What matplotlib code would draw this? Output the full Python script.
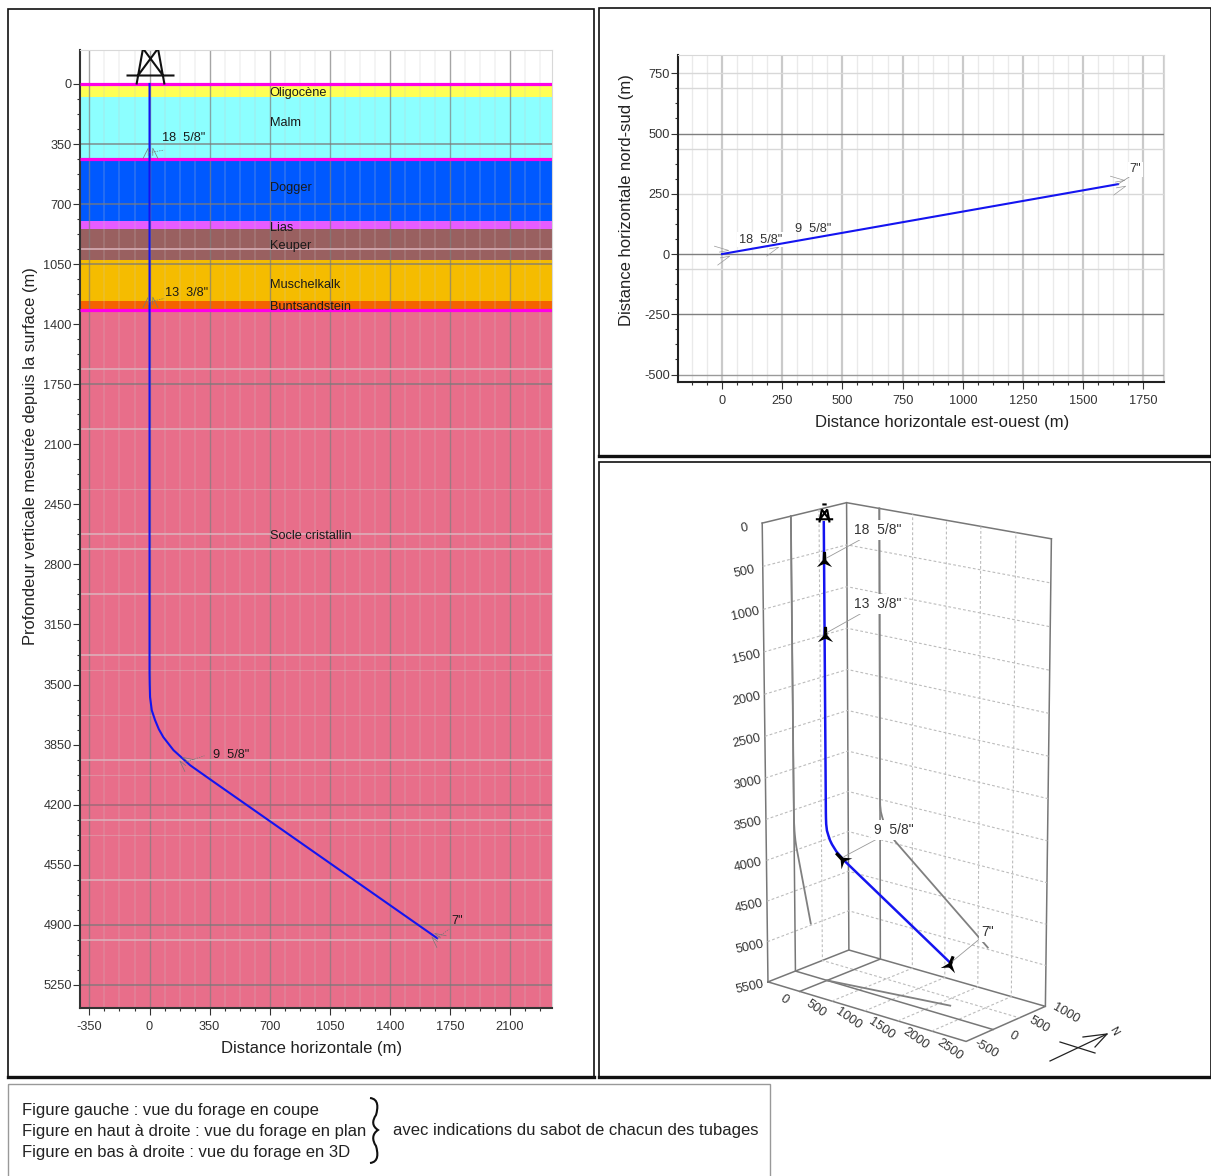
import matplotlib
matplotlib.use('Agg')
import matplotlib.pyplot as plt
from matplotlib.markers import MarkerStyle
from matplotlib.path import Path
from matplotlib.patches import PathPatch, Rectangle
from matplotlib.transforms import Affine2D
from mpl_toolkits.mplot3d import proj3d

plt.rcParams['font.family'] = ['Liberation Sans', 'DejaVu Sans']
plt.rcParams['axes.unicode_minus'] = False

W, H = 1211, 1176

# --- Données : coupe ---
couches = ['Oligocène', 'Malm', 'Dogger', 'Lias', 'Keuper', 'Muschelkalk', 'Buntsandstein', 'Socle cristallin']
toits = [0, 78, 437, 797, 847, 1028, 1267, 1318]
murs = [78, 437, 797, 847, 1028, 1267, 1318, 5385]
couleurs = ['#FFFF55', '#8CFFFF', '#0059FF', '#E65CFF', '#996060', '#F5BC00', '#F56200', '#E86E8A']
label_y = [50, 225, 604, 837, 947, 1169, 1297, 2637]
limites_magenta = [0, 437, 1318]

coupe_x = [0, 0, 1, 3, 13, 32, 54, 80, 139, 236, 372, 1675]
coupe_z = [0, 3433, 3500, 3573, 3650, 3707, 3760, 3806, 3882, 3970, 4066, 4978]

tubages = ['18  5/8"', '13  3/8"', '9  5/8"', '7"']
sabot_x = [0, 0, 207, 1675]
sabot_z = [400, 1270, 3952, 4978]
sabot_angle = [0, 0, 52, 52]
tub_label_x = [73, 90, 370, 1760]
tub_label_z = [315, 1218, 3910, 4878]
leader_x = [85, 85, 320, 1745]
leader_z = [385, 1250, 3915, 4925]

z_ticks = [0, 350, 700, 1050, 1400, 1750, 2100, 2450, 2800, 3150, 3500, 3850, 4200, 4550, 4900, 5250]
x_ticks = [-350, 0, 350, 700, 1050, 1400, 1750, 2100]
z_sombres = [350, 700, 1050, 1750, 4900, 5250]
z_moyens = [4200]
z_clairs = [962.5, 1662.5, 2012.5, 2625, 2712.5, 2975, 3325, 3937.5, 4287.5, 4637.5, 4987.5]
z_pales = [2362.5, 3412.5, 3675, 4025, 4375]

# --- Données : plan ---
plan_e = [0, 205, 1645]
plan_n = [0, 36, 290]
plan_sabot_e = [0, 205, 1645]
plan_sabot_n = [0, 36, 290]
plan_xticks = [0, 250, 500, 750, 1000, 1250, 1500, 1750]
plan_yticks = [-500, -250, 0, 250, 500, 750]
plan_sombres = [-250, 0, 500]
plan_clairs = [-62.5, 250, 437.5, 687.5, 750]

# --- Données : 3D ---
well_e = [0, 0, 1, 3, 13, 32, 53, 79, 137, 232, 366, 1645]
well_n = [0, 0, 0, 1, 2, 6, 9, 14, 24, 41, 65, 290]
well_z = [0, 3433, 3500, 3573, 3650, 3707, 3760, 3806, 3882, 3970, 4066, 4978]
sab3_e = [0, 0, 205, 1645]
sab3_n = [0, 0, 36, 290]
sab3_z = [430, 1300, 3952, 4978]
sab3_angle = [0, 0, 45, -20]
e_ticks = [0, 500, 1000, 1500, 2000, 2500]
n_ticks = [-500, 0, 500, 1000]
prof_ticks = [0, 500, 1000, 1500, 2000, 2500, 3000, 3500, 4000, 4500, 5000, 5500]


def axes_px(l, t, r, b, **kw):
    return fig.add_axes([l / W, 1 - b / H, (r - l) / W, (b - t) / H], **kw)


def style_axes(ax, dark='#333333'):
    for s in ['top', 'right']:
        ax.spines[s].set_color('#d8d8d8')
    for s in ['left', 'bottom']:
        ax.spines[s].set_color(dark)
        ax.spines[s].set_linewidth(1.5)
    ax.tick_params(which='major', length=5, width=0.8, color='#333333', labelsize=9.2, labelcolor='#333333')
    ax.tick_params(which='minor', length=2.5, width=0.8, color='#333333')
    ax.tick_params(axis='x', which='major', pad=4.5)
    ax.tick_params(axis='y', which='major', pad=1)


def marqueur_sabot(angle):
    verts = [(-1, -.7), (-.3, .7), (-.3, -.3), (.3, -.3), (.3, .7), (1, -.7)]
    codes = [Path.MOVETO, Path.LINETO, Path.LINETO, Path.MOVETO, Path.LINETO, Path.LINETO]
    return MarkerStyle(Path(verts, codes), transform=Affine2D().rotate_deg(angle))


def marqueur_plein(angle):
    verts = [(-.2, 1), (.2, 1), (.25, -.1), (1, -1), (.1, -.6), (-.1, -.6), (-1, -1), (-.25, -.1), (-.2, 1)]
    return MarkerStyle(Path(verts, closed=True), transform=Affine2D().rotate_deg(angle))


def marqueur_derrick():
    verts = [(-14, 0), (-7.5, 36), (14, 0), (7.5, 36), (-24, 9), (24, 9),
             (-12.5, 9), (7.5, 36), (12.5, 9), (-7.5, 36), (-6, 50), (6, 50)]
    codes = [Path.MOVETO, Path.LINETO] * 6
    return Path(verts, codes)


fig = plt.figure(figsize=(W / 100, H / 100), dpi=100, facecolor='white')

# --- 1. Coupe ---
ax = axes_px(80, 50, 552, 1008)
ax.set_xlim(-405, 2344)
ax.set_ylim(5385, -198)
for t, m, c in zip(toits, murs, couleurs):
    ax.axhspan(t, m, color=c, lw=0, zorder=1)
for i in range(-4, 27):
    v = i * 87.5
    if i % 4:
        ax.axvline(v, color='#c8c8c8', alpha=0.22, lw=1.2, zorder=2)
for v in x_ticks:
    ax.axvline(v, color='#7f7f7f', alpha=0.7, lw=1, zorder=2)
ax.hlines(z_sombres, -405, 2344, color='#7a7a7a', lw=1.1, alpha=0.85, zorder=2)
ax.hlines(z_moyens, -405, 2344, color='#a06a78', lw=1.1, zorder=2)
ax.hlines(z_clairs, -405, 2344, color='#dcb4bd', lw=1.1, zorder=2)
ax.hlines(z_pales, -405, 2344, color='#dcb4bd', lw=0.8, alpha=0.45, zorder=2)
ax.hlines(limites_magenta, -405, 2344, color='#FF00E6', lw=2.3, zorder=3)
ax.plot(coupe_x, coupe_z, color='#1414F0', lw=1.5, zorder=4)
ax.plot([0], [0], marker=marqueur_derrick(), ms=72, mfc='none', mec='#111111', mew=1.5, zorder=5, ls='none')
for nom, y in zip(couches, label_y):
    ax.text(700, y, nom, fontsize=9.2, color='#1a1a1a', va='center', ha='left', zorder=6)
for sx, sz, a, tub, lx, lz, gx, gz in zip(sabot_x, sabot_z, sabot_angle, tubages,
                                          tub_label_x, tub_label_z, leader_x, leader_z):
    ax.plot([sx], [sz], marker=marqueur_sabot(a), ms=11, mfc='none', mec='#777777', mew=0.5, ls='none', zorder=5)
    ax.plot([sx, gx], [sz, gz], color='#777777', lw=0.5, ls=(0, (2, 1.5)), zorder=5)
    ax.text(lx, lz, tub, fontsize=9.2, color='#1a1a1a', va='center', ha='left', zorder=6)
ax.set_xticks(x_ticks)
ax.set_yticks(z_ticks)
ax.set_xticks([i * 87.5 for i in range(-4, 27) if i % 4], minor=True)
ax.set_yticks([i * 87.5 for i in range(0, 61) if i % 4], minor=True)
style_axes(ax)
ax.set_xlabel('Distance horizontale (m)', fontsize=12, color='#222222')
ax.set_ylabel('Profondeur verticale mesurée depuis la surface (m)', fontsize=11.9, color='#222222')
ax.xaxis.set_label_coords(0.4915, -0.0345)
ax.yaxis.set_label_coords(-0.089, 0.576)

# --- 2. Plan ---
ax2 = axes_px(678, 55, 1164, 382)
ax2.set_xlim(-183, 1836)
ax2.set_ylim(-531, 826)
for i in range(-2, 29):
    v = i * 62.5
    if i % 4:
        ax2.axvline(v, color='#dddddd', alpha=0.6, lw=1, zorder=1)
for v in plan_xticks:
    ax2.axvline(v, color='#bdbdbd', lw=1.6, alpha=0.8, zorder=1)
ax2.axvline(1836, color='#cccccc', lw=1.6, zorder=1)
ax2.hlines(plan_clairs, -183, 1836, color='#d8d8d8', lw=1, zorder=1)
ax2.hlines(plan_sombres, -183, 1836, color='#7f7f7f', lw=1, zorder=1)
ax2.hlines([-500], -183, 1836, color='#9a9a9a', lw=1, zorder=1)
ax2.plot(plan_e, plan_n, color='#1414F0', lw=1.5, zorder=3)
for e, n in zip(plan_sabot_e, plan_sabot_n):
    ax2.plot([e], [n], marker=marqueur_sabot(-80), ms=14, mfc='none', mec='#999999', mew=0.5,
             ls='none', zorder=2)
ax2.text(70, 60, tubages[0], fontsize=9.2, color='#333333', va='center', ha='left', zorder=2.5,
         bbox=dict(fc='white', ec='none', pad=1))
ax2.text(305, 106, tubages[2], fontsize=9.2, color='#333333', va='center', ha='left', zorder=4)
ax2.text(1718, 352, tubages[3], fontsize=9.2, color='#333333', va='center', ha='center', zorder=4,
         bbox=dict(fc='white', ec='none', pad=1))
ax2.plot([1645, 1715], [290, 335], color='#888888', lw=0.5, zorder=3)
ax2.set_xticks(plan_xticks)
ax2.set_yticks(plan_yticks)
ax2.set_xticks([i * 62.5 for i in range(-2, 29) if i % 4], minor=True)
ax2.set_yticks([i * 62.5 for i in range(-8, 13) if i % 4], minor=True)
style_axes(ax2, dark='#222222')
ax2.set_xlabel('Distance horizontale est-ouest (m)', fontsize=12, color='#222222')
ax2.set_ylabel('Distance horizontale nord-sud (m)', fontsize=12, color='#222222')
ax2.xaxis.set_label_coords(0.543, -0.101)
ax2.yaxis.set_label_coords(-0.0905, 0.557)

# --- 3. Vue 3D ---
ax3 = axes_px(591, 468, 1203, 1083, projection='3d')
ax3.patch.set_alpha(0)
ax3.set_proj_type('persp', focal_length=1)
ax3.view_init(elev=16.5, azim=-50)
ax3.set_xlim(-500, 2500)
ax3.set_ylim(-500, 1000)
ax3.set_zlim(5500, 0)
ax3.set_box_aspect((258, 125, 474), zoom=0.895)
ax3.set_axis_off()

E0, E1, N0, N1, Z1 = -500, 2500, -500, 1000, 5500
bord = dict(color='#777777', lw=1.1)
trait = dict(color='#bcbcbc', lw=0.8, ls=(0, (2.5, 2)))
for e, n in [(E0, N0), (E0, N1), (E1, N1)]:
    ax3.plot([e, e], [n, n], [0, Z1], **bord)
ax3.plot([E0, E0, E1], [N0, N1, N1], [0, 0, 0], **bord)
ax3.plot([E0, E0, E1, E1, E0], [N0, N1, N1, N0, N0], [Z1] * 5, **bord)
for z in prof_ticks[1:-1]:
    ax3.plot([E0, E0, E1], [N0, N1, N1], [z, z, z], **trait)
for e in e_ticks[1:-1]:
    ax3.plot([e, e, e], [N0, N1, N1], [Z1, Z1, 0], **trait)
for n in n_ticks[2:-1]:
    ax3.plot([E0, E0, E1], [n, n, n], [0, Z1, Z1], **trait)
# plans du zero
ax3.plot([E0, E0, E1], [0, 0, 0], [0, Z1, Z1], **bord)
ax3.plot([0, 0, 0], [N0, N1, N1], [Z1, Z1, 0], **bord)
# projections du puits sur les parois
ax3.plot([E0] * len(well_z), well_n, well_z, color='#808080', lw=1.3)
ax3.plot(well_e, [N1] * len(well_z), well_z, color='#808080', lw=1.3)
ax3.plot(well_e, well_n, [Z1] * len(well_z), color='#808080', lw=1.3)
ax3.plot(well_e, well_n, well_z, color='#1414F0', lw=1.8)

for e, n, z, a in zip(sab3_e, sab3_n, sab3_z, sab3_angle):
    ax3.plot([e], [n], [z], marker=marqueur_plein(a), ms=11, color='black', mew=0, ls='none')
ax3.plot([0], [0], [0], marker=marqueur_derrick(), ms=26, mfc='none', mec='black', mew=1.5, ls='none')


def pose_3d(e, n, z):
    x2, y2, _ = proj3d.proj_transform(e, n, z, ax3.get_proj())
    return x2, y2


def tick_3d(e, n, z, txt, dx, dy, rot):
    ax3.annotate(txt, xy=pose_3d(e, n, z), xycoords='data', xytext=(dx, dy), textcoords='offset pixels',
                 rotation=rot, ha='center', va='center', fontsize=9.2, color='#333333')


for z in prof_ticks:
    tick_3d(E0, N0, z, str(z), -18, -5, 12)
for e in e_ticks:
    tick_3d(e, N0, Z1, str(e), -16, -8, -35)
for n in n_ticks:
    tick_3d(E1, n, Z1, str(n), 20, -7, -30)

label_3d_x = [878, 878, 894, 988]
label_3d_y = [530, 604, 830, 932]
for e, n, z, tub, lx, ly in zip(sab3_e, sab3_n, sab3_z, tubages, label_3d_x, label_3d_y):
    ax3.annotate(tub, xy=pose_3d(e, n, z), xycoords='data', xytext=(lx, H - ly), textcoords='figure pixels',
                 ha='center', va='center', fontsize=10, color='#333333',
                 bbox=dict(fc='white', ec='none', pad=2),
                 arrowprops=dict(arrowstyle='-', color='#999999', lw=0.6, shrinkA=0, shrinkB=2))

# --- 4. Cadres, legende, fleche nord ---
ov = fig.add_axes([0, 0, 1, 1], zorder=10)
ov.set_xlim(0, W)
ov.set_ylim(H, 0)
ov.axis('off')
for l, t, r, b in [(8, 9, 594, 1077), (599, 8, 1211, 456), (599, 462, 1211, 1077)]:
    ov.add_patch(Rectangle((l, t), r - l, b - t, fc='none', ec='#111111', lw=1.2))
ov.plot([599, 1211], [456, 456], color='#111111', lw=2.4)
ov.plot([599, 1211], [1077, 1077], color='#111111', lw=2.4)
ov.plot([8, 594], [1077, 1077], color='#111111', lw=2.4)
ov.add_patch(Rectangle((8, 1084), 762, 100, fc='none', ec='#999999', lw=1))

ov.text(22, 1110.5, 'Figure gauche : vue du forage en coupe', fontsize=12, color='#222222', va='center')
ov.text(22, 1131.5, 'Figure en haut à droite : vue du forage en plan', fontsize=12, color='#222222', va='center')
ov.text(22, 1152.5, 'Figure en bas à droite : vue du forage en 3D', fontsize=12, color='#222222', va='center')
ov.text(393, 1130.5, 'avec indications du sabot de chacun des tubages', fontsize=12, color='#222222', va='center')

acc = [(370, 1098), (379, 1099), (378, 1108), (376, 1115), (372, 1121), (372, 1126), (378, 1130),
       (372, 1134), (372, 1140), (376, 1146), (378, 1153), (379, 1162), (370, 1163)]
ov.add_patch(PathPatch(Path(acc, [Path.MOVETO] + [Path.CURVE4] * 12), fc='none', ec='#111111', lw=1.5))

ov.plot([1050, 1107], [1061, 1034], color='#222222', lw=0.9)
ov.plot([1060, 1095], [1042, 1053], color='#222222', lw=0.9)
ov.plot([1083, 1107, 1095], [1037, 1034, 1047], color='#222222', lw=0.9)
ov.text(1114, 1031, 'N', fontsize=8, color='#222222', rotation=-60, ha='center', va='center')

fig.savefig('out.png', dpi=100)
